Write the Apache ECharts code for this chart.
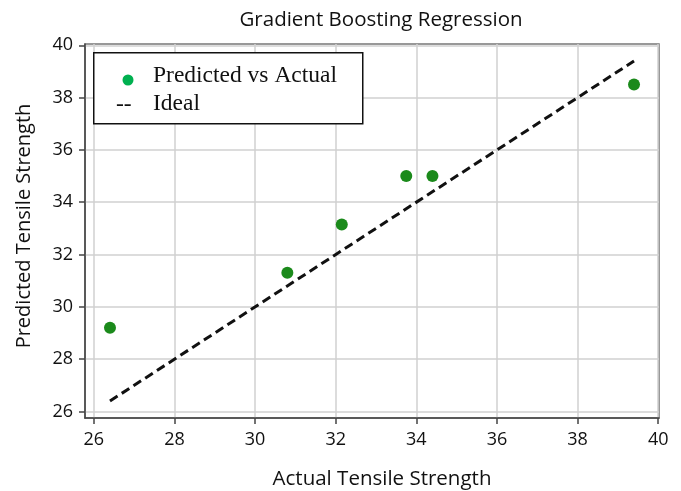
<!DOCTYPE html>
<html>
<head>
<meta charset="utf-8">
<script src="https://cdn.jsdelivr.net/npm/echarts@6/dist/echarts.min.js"></script>
<style>
  html, body { margin: 0; padding: 0; background: #fff; }
  #chart { width: 681px; height: 491px; }
</style>
</head>
<body>
<div id="chart"></div>
<script>
var title = 'Gradient Boosting Regression';
var xTitle = 'Actual Tensile Strength';
var yTitle = 'Predicted Tensile Strength';
var actual = [26.4, 30.8, 32.15, 33.75, 34.4, 39.4];
var predicted = [29.2, 31.3, 33.15, 35.0, 35.0, 38.5];
var xTicks = [26, 28, 30, 32, 34, 36, 38, 40];
var yTicks = [26, 28, 30, 32, 34, 36, 38, 40];
var legendLabels = ['Predicted vs Actual', 'Ideal'];

var points = actual.map(function (a, i) { return [a, predicted[i]]; });
var lo = Math.min.apply(null, actual), hi = Math.max.apply(null, actual);
var ideal = [[lo, lo], [hi, hi]];

var sans = 'Open Sans';
var serif = 'Liberation Serif';
var chart = echarts.init(document.getElementById('chart'), null, { renderer: 'canvas' });
chart.setOption({
  backgroundColor: '#fff',
  animation: false,
  title: {
    text: title, left: 376, top: 5, textAlign: 'center',
    textStyle: { fontFamily: sans, fontSize: 20.5, fontWeight: 'normal', color: '#111' }
  },
  grid: {
    left: 85, right: 22, top: 44, bottom: 73,
    containLabel: false, outerBoundsMode: 'none',
    show: true, borderColor: '#777', borderWidth: 1.5, backgroundColor: 'transparent'
  },
  xAxis: {
    type: 'value', min: 25.78, max: 40.02,
    name: xTitle, nameLocation: 'middle', nameGap: 51,
    nameTextStyle: { fontFamily: sans, fontSize: 20.5, color: '#111', padding: [0, 0, 0, 20] },
    axisLine: { show: true, lineStyle: { color: '#444', width: 1.5 } },
    axisTick: { show: true, length: 6, customValues: xTicks, lineStyle: { color: '#444', width: 1.5 } },
    axisLabel: { customValues: xTicks, margin: 13, fontFamily: sans, fontSize: 18, color: '#111' },
    splitLine: { show: true, lineStyle: { color: '#d0d0d0', width: 1.5 } }
  },
  yAxis: {
    type: 'value', min: 25.75, max: 40.05,
    name: yTitle, nameLocation: 'middle', nameGap: 51,
    nameTextStyle: { fontFamily: sans, fontSize: 20, color: '#111', padding: [0, 0, 0, 10] },
    axisLine: { show: true, lineStyle: { color: '#444', width: 1.5 } },
    axisTick: { show: true, length: 6, customValues: yTicks, lineStyle: { color: '#444', width: 1.5 } },
    axisLabel: { customValues: yTicks, margin: 12, fontFamily: sans, fontSize: 18, color: '#111' },
    splitLine: { show: true, lineStyle: { color: '#d0d0d0', width: 1.5 } }
  },
  series: [
    {
      type: 'line', data: ideal, showSymbol: false, symbol: 'none', z: 3,
      lineStyle: { color: '#111', width: 3, type: [9, 5] }
    },
    {
      type: 'scatter', data: points, symbol: 'circle', symbolSize: 12, z: 4,
      itemStyle: { color: '#1b8a1b', opacity: 1 }
    }
  ],
  graphic: [
    { type: 'rect', left: 93, top: 52, z: 10,
      shape: { width: 269, height: 71 },
      style: { fill: '#fff', stroke: '#111', lineWidth: 1.5 } },
    { type: 'circle', z: 11, x: 128, y: 80, shape: { r: 5.5 }, style: { fill: '#00b050' } },
    { type: 'text', z: 11, x: 153, y: 76,
      style: { text: legendLabels[0], fontFamily: serif, fontSize: 23.5, fill: '#111', verticalAlign: 'middle' } },
    { type: 'text', z: 11, x: 116, y: 105,
      style: { text: '--', fontFamily: serif, fontSize: 23.5, fill: '#111', verticalAlign: 'middle' } },
    { type: 'text', z: 11, x: 153, y: 104,
      style: { text: legendLabels[1], fontFamily: serif, fontSize: 23.5, fill: '#111', verticalAlign: 'middle' } }
  ]
});
</script>
</body>
</html>
